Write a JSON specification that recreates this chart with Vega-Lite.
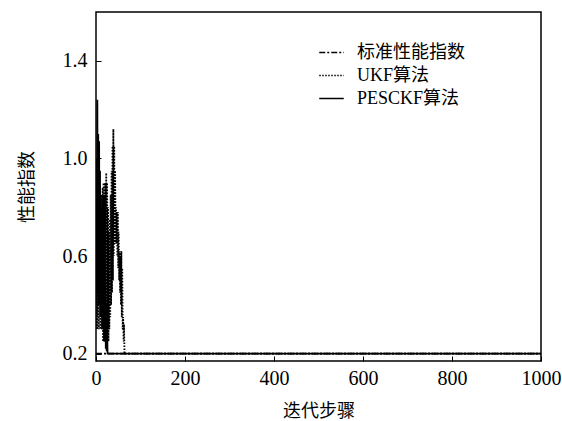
{
  "$schema": "https://vega.github.io/schema/vega-lite/v6.json",
  "width": 445,
  "height": 349,
  "autosize": {"type": "none"},
  "padding": {"left": 96, "top": 12, "right": 21, "bottom": 60},
  "background": "white",
  "config": {
    "view": {"stroke": "black", "strokeWidth": 1.5},
    "font": "Liberation Serif",
    "axis": {"grid": false, "domain": false, "tickColor": "black", "tickSize": -5, "labelColor": "black", "labelFont": "Liberation Serif", "labelFontSize": 20, "titleFont": "Noto Sans CJK SC", "titleFontSize": 18, "titleFontWeight": "normal", "titleColor": "black"}
  },
  "data": {"values": [
    {"s": "标准性能指数", "x": 0, "y": 0.2},
    {"s": "标准性能指数", "x": 1000, "y": 0.2},
    {"s": "UKF算法", "x": 0, "y": 0.4}, {"s": "UKF算法", "x": 1, "y": 0.7}, {"s": "UKF算法", "x": 2, "y": 0.3}, {"s": "UKF算法", "x": 3, "y": 0.8},
    {"s": "UKF算法", "x": 4, "y": 0.35}, {"s": "UKF算法", "x": 5, "y": 0.75}, {"s": "UKF算法", "x": 6, "y": 0.3}, {"s": "UKF算法", "x": 7, "y": 0.85},
    {"s": "UKF算法", "x": 8, "y": 0.4}, {"s": "UKF算法", "x": 9, "y": 0.7}, {"s": "UKF算法", "x": 10, "y": 0.3}, {"s": "UKF算法", "x": 11, "y": 0.8},
    {"s": "UKF算法", "x": 12, "y": 0.35}, {"s": "UKF算法", "x": 13, "y": 0.85}, {"s": "UKF算法", "x": 14, "y": 0.3}, {"s": "UKF算法", "x": 15, "y": 0.88},
    {"s": "UKF算法", "x": 16, "y": 0.25}, {"s": "UKF算法", "x": 17, "y": 0.9}, {"s": "UKF算法", "x": 18, "y": 0.3}, {"s": "UKF算法", "x": 19, "y": 0.85},
    {"s": "UKF算法", "x": 20, "y": 0.25}, {"s": "UKF算法", "x": 21, "y": 0.9}, {"s": "UKF算法", "x": 22, "y": 0.3}, {"s": "UKF算法", "x": 23, "y": 0.94},
    {"s": "UKF算法", "x": 24, "y": 0.22}, {"s": "UKF算法", "x": 25, "y": 0.9}, {"s": "UKF算法", "x": 26, "y": 0.3}, {"s": "UKF算法", "x": 27, "y": 0.8},
    {"s": "UKF算法", "x": 28, "y": 0.25}, {"s": "UKF算法", "x": 29, "y": 0.7}, {"s": "UKF算法", "x": 30, "y": 0.3}, {"s": "UKF算法", "x": 31, "y": 0.75},
    {"s": "UKF算法", "x": 32, "y": 0.35}, {"s": "UKF算法", "x": 33, "y": 0.85}, {"s": "UKF算法", "x": 34, "y": 0.4}, {"s": "UKF算法", "x": 35, "y": 0.95},
    {"s": "UKF算法", "x": 36, "y": 0.45}, {"s": "UKF算法", "x": 37, "y": 1.05}, {"s": "UKF算法", "x": 38, "y": 0.5}, {"s": "UKF算法", "x": 39, "y": 1.12},
    {"s": "UKF算法", "x": 40, "y": 0.6}, {"s": "UKF算法", "x": 41, "y": 1.05}, {"s": "UKF算法", "x": 42, "y": 0.65}, {"s": "UKF算法", "x": 43, "y": 0.95},
    {"s": "UKF算法", "x": 44, "y": 0.7}, {"s": "UKF算法", "x": 45, "y": 0.8}, {"s": "UKF算法", "x": 46, "y": 0.65}, {"s": "UKF算法", "x": 47, "y": 0.78},
    {"s": "UKF算法", "x": 48, "y": 0.6}, {"s": "UKF算法", "x": 49, "y": 0.78}, {"s": "UKF算法", "x": 50, "y": 0.55}, {"s": "UKF算法", "x": 51, "y": 0.7},
    {"s": "UKF算法", "x": 52, "y": 0.5}, {"s": "UKF算法", "x": 53, "y": 0.62}, {"s": "UKF算法", "x": 54, "y": 0.45}, {"s": "UKF算法", "x": 55, "y": 0.6},
    {"s": "UKF算法", "x": 56, "y": 0.4}, {"s": "UKF算法", "x": 57, "y": 0.62}, {"s": "UKF算法", "x": 58, "y": 0.35}, {"s": "UKF算法", "x": 59, "y": 0.55},
    {"s": "UKF算法", "x": 60, "y": 0.3}, {"s": "UKF算法", "x": 61, "y": 0.35}, {"s": "UKF算法", "x": 62, "y": 0.25}, {"s": "UKF算法", "x": 63, "y": 0.32},
    {"s": "UKF算法", "x": 64, "y": 0.2}, {"s": "UKF算法", "x": 65, "y": 0.2}, {"s": "UKF算法", "x": 1000, "y": 0.2},
    {"s": "PESCKF算法", "x": 0, "y": 0.4}, {"s": "PESCKF算法", "x": 1, "y": 1.0}, {"s": "PESCKF算法", "x": 2, "y": 0.5}, {"s": "PESCKF算法", "x": 3, "y": 1.24},
    {"s": "PESCKF算法", "x": 4, "y": 0.45}, {"s": "PESCKF算法", "x": 5, "y": 1.1}, {"s": "PESCKF算法", "x": 6, "y": 0.4}, {"s": "PESCKF算法", "x": 7, "y": 1.07},
    {"s": "PESCKF算法", "x": 8, "y": 0.5}, {"s": "PESCKF算法", "x": 9, "y": 0.95}, {"s": "PESCKF算法", "x": 10, "y": 0.35}, {"s": "PESCKF算法", "x": 11, "y": 0.85},
    {"s": "PESCKF算法", "x": 12, "y": 0.4}, {"s": "PESCKF算法", "x": 13, "y": 0.8}, {"s": "PESCKF算法", "x": 14, "y": 0.3}, {"s": "PESCKF算法", "x": 15, "y": 0.75},
    {"s": "PESCKF算法", "x": 16, "y": 0.35}, {"s": "PESCKF算法", "x": 17, "y": 0.7}, {"s": "PESCKF算法", "x": 18, "y": 0.25}, {"s": "PESCKF算法", "x": 19, "y": 0.6},
    {"s": "PESCKF算法", "x": 20, "y": 0.3}, {"s": "PESCKF算法", "x": 21, "y": 0.5}, {"s": "PESCKF算法", "x": 22, "y": 0.22}, {"s": "PESCKF算法", "x": 23, "y": 0.4},
    {"s": "PESCKF算法", "x": 24, "y": 0.21}, {"s": "PESCKF算法", "x": 25, "y": 0.3}, {"s": "PESCKF算法", "x": 26, "y": 0.2}, {"s": "PESCKF算法", "x": 1000, "y": 0.2}
  ]},
  "mark": {"type": "line", "color": "black", "strokeWidth": 1.8, "clip": true},
  "encoding": {
    "x": {"field": "x", "type": "quantitative", "scale": {"domain": [0, 1000], "nice": false},
      "axis": {"values": [0, 200, 400, 600, 800, 1000], "format": "d", "title": "迭代步骤", "titlePadding": 14, "labelPadding": 12, "labelFlush": false}},
    "y": {"field": "y", "type": "quantitative", "scale": {"domain": [0.17, 1.6], "nice": false, "zero": false},
      "axis": {"values": [0.2, 0.6, 1.0, 1.4], "format": ".1f", "title": "性能指数", "titlePadding": 26, "labelPadding": 14}},
    "strokeDash": {"field": "s", "type": "nominal",
      "scale": {"domain": ["标准性能指数", "UKF算法", "PESCKF算法"], "range": [[6, 2, 2, 2], [1.5, 1.5], [1, 0]]},
      "legend": {"title": null, "orient": "none", "legendX": 222, "legendY": 27, "symbolType": "stroke", "symbolSize": 600, "symbolStrokeColor": "black", "symbolStrokeWidth": 1.6, "labelFont": "Liberation Serif, Noto Sans CJK SC", "labelFontSize": 18, "labelColor": "black", "rowPadding": 0, "labelOffset": 12}},
    "order": {"field": "x", "type": "quantitative"}
  }
}
